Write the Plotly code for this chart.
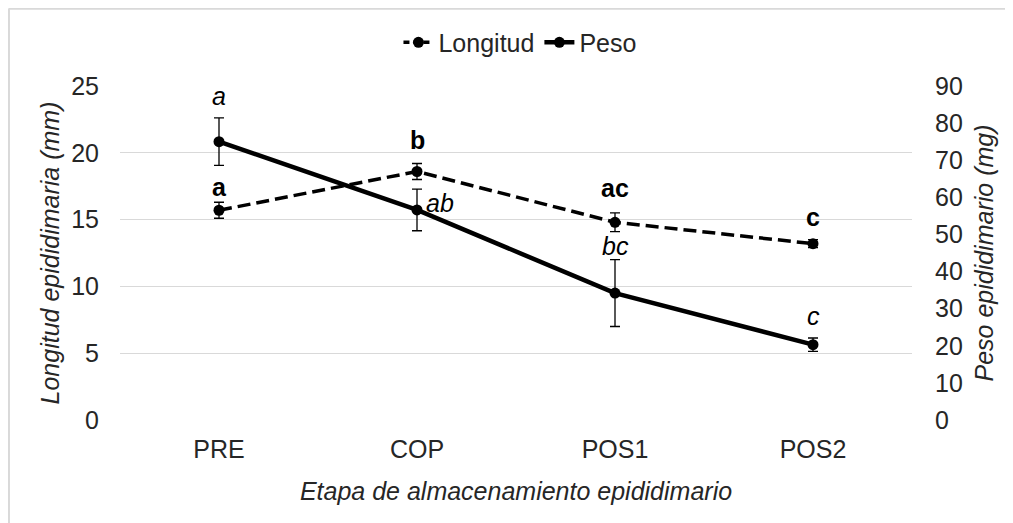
import plotly.graph_objects as go

# ---- data ----
etapas = ["PRE", "COP", "POS1", "POS2"]
longitud = [15.7, 18.6, 14.8, 13.2]
longitud_err = [0.6, 0.6, 0.7, 0.3]
peso = [75.0, 56.6, 34.2, 20.3]
peso_err = [6.4, 5.6, 9.0, 1.8]
letras_longitud = ["a", "b", "ac", "c"]
letras_peso = ["a", "ab", "bc", "c"]
ticks_left = [0, 5, 10, 15, 20, 25]
ticks_right = [0, 10, 20, 30, 40, 50, 60, 70, 80, 90]

FONT = "Liberation Sans, Arial, sans-serif"
TXT = "#262626"
FS = 25

fig = go.Figure()
fig.add_trace(go.Scatter(
    x=etapas, y=longitud, name="Longitud", mode="lines+markers", showlegend=False,
    legendgroup="long",
    line=dict(color="black", width=3.5, dash="13px,6px"),
    marker=dict(color="black", size=11),
    error_y=dict(type="data", array=longitud_err, color="black", thickness=1.3, width=5),
))
# legend entry for Longitud (shorter dashes so the pattern shows in the legend symbol)
fig.add_trace(go.Scatter(
    x=[None], y=[None], name="Longitud", mode="lines+markers", legendgroup="long",
    line=dict(color="black", width=3.5, dash="6px,4px"),
    marker=dict(color="black", size=11),
))
fig.add_trace(go.Scatter(
    x=etapas, y=peso, name="Peso", mode="lines+markers", yaxis="y2",
    line=dict(color="black", width=4.5),
    marker=dict(color="black", size=11),
    error_y=dict(type="data", array=peso_err, color="black", thickness=1.3, width=5),
))

# letter annotations
shift_long = [0, 8, 10, 8]
for i, (c, v, e, t) in enumerate(zip(etapas, longitud, longitud_err, letras_longitud)):
    fig.add_annotation(x=c, y=v + e, yref="y", text="<b>" + t + "</b>", showarrow=False,
                       yanchor="bottom", yshift=shift_long[i] - 1,
                       font=dict(family=FONT, size=FS, color="black"))
shift_peso = [8, None, 0, 8]
for i, (c, v, e, t) in enumerate(zip(etapas, peso, peso_err, letras_peso)):
    if shift_peso[i] is None:
        fig.add_annotation(x=c, y=v, yref="y2", text="<i>" + t + "</i>", showarrow=False,
                           xanchor="left", yanchor="middle", xshift=7, yshift=7,
                           font=dict(family=FONT, size=FS, color="black"))
    else:
        fig.add_annotation(x=c, y=v + e, yref="y2", text="<i>" + t + "</i>", showarrow=False,
                           yanchor="bottom", yshift=shift_peso[i] - 2,
                           font=dict(family=FONT, size=FS, color="black"))

# light frame (top and left edges)
fig.add_shape(type="line", xref="paper", yref="paper", x0=-0.1405, x1=1.2, y0=1.232, y1=1.232,
              line=dict(color="#d9d9d9", width=2.5), layer="below")
fig.add_shape(type="line", xref="paper", yref="paper", x0=-0.1405, x1=-0.1405, y0=-0.35, y1=1.232,
              line=dict(color="#d9d9d9", width=2.5), layer="below")

fig.update_layout(
    width=1005, height=515,
    margin=dict(l=112, r=101, t=78, b=103, autoexpand=False),
    paper_bgcolor="white", plot_bgcolor="white",
    font=dict(family=FONT, size=FS, color=TXT),
    showlegend=True,
    legend=dict(orientation="h", x=0.505, xanchor="center", y=1.13, yanchor="middle",
                font=dict(family=FONT, size=FS, color=TXT),
                traceorder="normal", bgcolor="rgba(0,0,0,0)"),
    xaxis=dict(
        type="category", range=[-0.5, 3.5], showgrid=False, showline=False, ticks="",
        tickfont=dict(family=FONT, size=FS, color=TXT), ticklabelstandoff=12,
        title=dict(text="Etapa de almacenamiento epididimario", standoff=20,
                   font=dict(family=FONT, size=FS, color=TXT, style="italic")),
    ),
    yaxis=dict(
        range=[0, 25], tickvals=ticks_left, showgrid=True, gridcolor="#d9d9d9", gridwidth=1.3,
        zeroline=False, showline=False, ticks="", ticklabelstandoff=20,
        tickfont=dict(family=FONT, size=FS, color=TXT),
        title=dict(text="Longitud epididimaria (mm)", standoff=4,
                   font=dict(family=FONT, size=FS, color=TXT, style="italic")),
    ),
    yaxis2=dict(
        range=[0, 90], tickvals=ticks_right, overlaying="y", side="right",
        showgrid=False, zeroline=False, showline=False, ticks="", ticklabelstandoff=22,
        tickfont=dict(family=FONT, size=FS, color=TXT),
        title=dict(text="Peso epididimario (mg)", standoff=13,
                   font=dict(family=FONT, size=FS, color=TXT, style="italic")),
    ),
)

fig.write_html("out.html")
